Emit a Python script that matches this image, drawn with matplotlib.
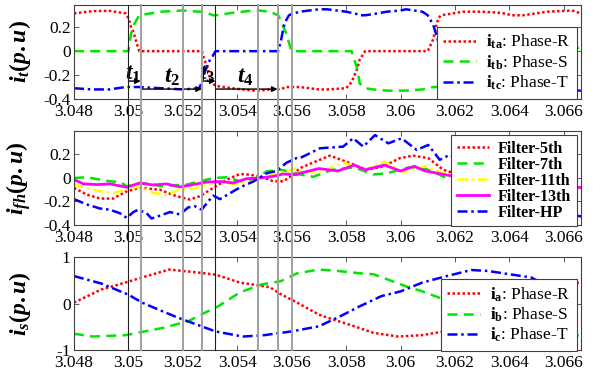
import matplotlib
matplotlib.use('Agg')
import matplotlib.pyplot as plt
import matplotlib.transforms as mtransforms
from matplotlib.lines import Line2D

plt.rcParams['font.family'] = ['Liberation Serif', 'DejaVu Serif']
plt.rcParams['mathtext.fontset'] = 'custom'
plt.rcParams['mathtext.rm'] = 'Liberation Serif:bold'
plt.rcParams['mathtext.bf'] = 'Liberation Serif:bold'
plt.rcParams['mathtext.it'] = 'Liberation Serif:bold:italic'

# --- Compensating currents i_t (p.u) ---
t_top = [3.048, 3.0487, 3.0493, 3.0499, 3.05, 3.0501, 3.0502, 3.0503, 3.0504, 3.0512, 3.052,
         3.0526, 3.0527, 3.0528, 3.0529, 3.053, 3.0531, 3.0532, 3.0538, 3.0546, 3.0548, 3.0552,
         3.0555, 3.0556, 3.0557, 3.0558, 3.0559, 3.056, 3.0563, 3.057, 3.0573, 3.058, 3.0582,
         3.0584, 3.0585, 3.0587, 3.059, 3.0595, 3.06, 3.0602, 3.0608, 3.061, 3.0612, 3.0613,
         3.0614, 3.0615, 3.0623, 3.063, 3.0637, 3.0639, 3.0641, 3.0643, 3.0645, 3.0654, 3.0663,
         3.0667]
i_ta = [0.316, 0.335, 0.337, 0.316, 0.275, 0.2, 0.15, 0.07, 0.0, 0.0, 0.0,
        0.0, 0.0, -0.08, -0.12, -0.23, -0.27, -0.29, -0.31, -0.33, -0.33, -0.32,
        -0.32, -0.31, -0.31, -0.30, -0.30, -0.30, -0.30, -0.32, -0.32, -0.31, -0.26,
        -0.15, -0.07, 0.0, 0.0, 0.0, 0.0, 0.0, 0.0, 0.0, 0.10, 0.20,
        0.28, 0.30, 0.33, 0.33, 0.32, 0.31, 0.30, 0.30, 0.30, 0.33, 0.34,
        0.31]
i_tb = [0.0, 0.0, 0.0, 0.0, 0.0, 0.15, 0.22, 0.26, 0.30, 0.33, 0.34,
        0.33, 0.33, 0.32, 0.32, 0.31, 0.30, 0.30, 0.32, 0.34, 0.34, 0.33,
        0.30, 0.26, 0.20, 0.15, 0.07, 0.0, 0.0, 0.0, 0.0, 0.0, 0.0,
        -0.14, -0.27, -0.31, -0.32, -0.33, -0.33, -0.33, -0.32, -0.31, -0.30, -0.30,
        -0.30, -0.30, -0.31, -0.31, -0.30, -0.20, -0.05, 0.0, 0.0, 0.0, 0.0,
        0.05]
i_tc = [-0.31, -0.32, -0.32, -0.30, -0.30, -0.30, -0.30, -0.30, -0.30, -0.31, -0.32,
        -0.31, -0.26, -0.18, -0.12, -0.07, -0.04, 0.0, 0.0, 0.0, 0.0, 0.0,
        0.0, 0.08, 0.20, 0.26, 0.30, 0.31, 0.33, 0.35, 0.35, 0.33, 0.32,
        0.31, 0.30, 0.30, 0.31, 0.33, 0.34, 0.35, 0.33, 0.30, 0.22, 0.15,
        0.07, 0.0, 0.0, 0.0, 0.0, -0.08, -0.22, -0.30, -0.31, -0.32, -0.33,
        -0.33]

# --- Filter currents i_fh (p.u) ---
t_f5 = [3.048, 3.04847, 3.04896, 3.04944, 3.04994, 3.05042, 3.05116, 3.05177, 3.05226, 3.05263,
        3.05312, 3.05361, 3.0541, 3.05447, 3.05495, 3.05532, 3.05569, 3.05606, 3.0563, 3.0574,
        3.05814, 3.05875, 3.05936, 3.05998, 3.06046, 3.06102, 3.06157, 3.0625, 3.0635, 3.0645,
        3.0655, 3.0667]
i_f5 = [-0.084, -0.141, -0.175, -0.175, -0.113, -0.084, -0.10, -0.155, -0.183, -0.155,
        -0.084, -0.014, 0.034, 0.028, 0.006, -0.028, -0.028, 0.028, 0.084, 0.19,
        0.127, 0.07, 0.099, 0.169, 0.19, 0.169, 0.07, 0.0, -0.08, -0.12,
        -0.10, -0.08]

t_f7 = [3.048, 3.04847, 3.04896, 3.04932, 3.04969, 3.04994, 3.05042, 3.05079, 3.05116, 3.05165,
        3.05214, 3.05263, 3.05312, 3.05361, 3.0541, 3.05459, 3.05508, 3.05557, 3.05606, 3.0563,
        3.05679, 3.0575, 3.0583, 3.059, 3.0595, 3.0603, 3.0609, 3.0616, 3.0625, 3.0635,
        3.0645, 3.0655, 3.0667]
i_f7 = [0.0, 0.006, -0.014, -0.028, -0.034, -0.07, -0.05, -0.045, -0.07, -0.062,
        -0.056, -0.028, 0.0, 0.006, -0.028, -0.014, 0.056, 0.07, 0.05, 0.03,
        0.01, 0.07, 0.09, 0.03, 0.04, 0.09, 0.08, 0.01, -0.02, -0.06,
        -0.08, -0.09, -0.09]

t_f11 = [3.048, 3.04847, 3.04896, 3.04944, 3.04994, 3.05042, 3.05091, 3.0514, 3.05189, 3.05238,
         3.05287, 3.05336, 3.05385, 3.05434, 3.05483, 3.05532, 3.05581, 3.05618, 3.0563, 3.0570,
         3.0579, 3.0587, 3.0594, 3.0601, 3.0609, 3.0616, 3.0625, 3.0635, 3.0645, 3.0655,
         3.0667]
i_f11 = [-0.056, -0.084, -0.113, -0.127, -0.098, -0.07, -0.127, -0.141, -0.098, -0.09,
         -0.056, -0.028, -0.05, -0.042, -0.014, 0.028, 0.056, 0.084, 0.06, 0.05,
         0.13, 0.07, 0.14, 0.05, 0.10, 0.04, 0.0, -0.05, -0.08, -0.09,
         -0.09]

t_f13 = [3.048, 3.04835, 3.04884, 3.04932, 3.04994, 3.05042, 3.05091, 3.0514, 3.05189, 3.05238,
         3.05287, 3.05336, 3.05385, 3.05434, 3.05483, 3.05532, 3.05569, 3.05618, 3.0563, 3.0570,
         3.0577, 3.0583, 3.0587, 3.0594, 3.060, 3.0605, 3.0609, 3.0616, 3.0625, 3.0635,
         3.0645, 3.0655, 3.0667]
i_f13 = [-0.014, -0.05, -0.056, -0.05, -0.079, -0.042, -0.06, -0.05, -0.076, -0.056,
         -0.034, -0.03, -0.042, -0.006, 0.0, 0.014, 0.034, 0.028, 0.04, 0.08,
         0.06, 0.11, 0.07, 0.11, 0.06, 0.10, 0.06, 0.03, -0.01, -0.05,
         -0.07, -0.08, -0.08]

t_hp = [3.048, 3.04847, 3.04896, 3.04932, 3.04969, 3.04994, 3.05018, 3.05036, 3.05067, 3.05085,
        3.05116, 3.05153, 3.05189, 3.0522, 3.05244, 3.05269, 3.05293, 3.05312, 3.05336, 3.05373,
        3.0541, 3.05459, 3.05508, 3.05545, 3.05581, 3.05618, 3.0563, 3.05704, 3.05789, 3.05826,
        3.05863, 3.05906, 3.05955, 3.06004, 3.06059, 3.06102, 3.06144, 3.06181, 3.063, 3.064,
        3.065, 3.066, 3.0667]
i_hp = [-0.18, -0.225, -0.26, -0.27, -0.30, -0.34, -0.29, -0.27, -0.30, -0.345,
        -0.32, -0.29, -0.31, -0.25, -0.24, -0.27, -0.20, -0.15, -0.18, -0.13,
        -0.08, -0.03, 0.04, 0.06, 0.13, 0.17, 0.169, 0.253, 0.267, 0.338,
        0.267, 0.365, 0.295, 0.338, 0.239, 0.281, 0.155, 0.197, 0.05, -0.10,
        -0.20, -0.30, -0.33]

# --- Source currents i_s (p.u) ---
t_sa = [3.048, 3.049, 3.05, 3.0505, 3.0515, 3.0525, 3.0532, 3.0541, 3.0552, 3.0556, 3.0562,
        3.057, 3.0575, 3.0581, 3.059, 3.0599, 3.0608, 3.0616, 3.0628, 3.0642, 3.0655, 3.0666]
i_sa = [0.02, 0.30, 0.47, 0.56, 0.73, 0.67, 0.62, 0.45, 0.35, 0.20, 0.02,
        -0.24, -0.34, -0.45, -0.63, -0.71, -0.68, -0.60, -0.40, 0.0, 0.30, 0.46]
t_sb = [3.048, 3.0487, 3.0499, 3.0506, 3.0513, 3.0522, 3.0528, 3.0533, 3.0541, 3.0549, 3.0556,
        3.0562, 3.057, 3.0577, 3.0585, 3.059, 3.0597, 3.0602, 3.0608, 3.0614, 3.0617, 3.063,
        3.0645, 3.0666]
i_sb = [-0.65, -0.71, -0.68, -0.60, -0.52, -0.38, -0.20, -0.06, 0.24, 0.41, 0.48,
        0.65, 0.73, 0.70, 0.65, 0.63, 0.48, 0.37, 0.26, 0.13, -0.02, -0.35,
        -0.62, -0.69]
t_sc = [3.048, 3.049, 3.05, 3.0505, 3.0511, 3.0518, 3.0525, 3.0532, 3.0542, 3.055, 3.056,
        3.057, 3.0578, 3.0585, 3.0593, 3.06, 3.0608, 3.0617, 3.0626, 3.0632, 3.064, 3.0648,
        3.0655, 3.0666]
i_sc = [0.59, 0.43, 0.19, 0.02, -0.13, -0.30, -0.45, -0.60, -0.71, -0.68, -0.60,
        -0.49, -0.27, -0.06, 0.16, 0.26, 0.45, 0.59, 0.72, 0.70, 0.63, 0.56,
        0.35, 0.24]

# switching instants marked across all panels
marks_black = [3.05, 3.0532]
marks_gray = [3.05045, 3.052, 3.0527, 3.05475, 3.05548, 3.056]

# interval arrows: (start, end, level)
arrows = [(3.05, 3.05045, -0.25), (3.05045, 3.0527, -0.317),
          (3.0527, 3.0532, -0.25), (3.0532, 3.05548, -0.317)]
arrow_labels = [(3.05016, -0.19, r'$t_1$'), (3.05159, -0.215, r'$t_2$'),
                (3.05288, -0.19, r'$t_3$'), (3.05428, -0.215, r'$t_4$')]

fig = plt.figure(figsize=(6.0, 3.76), dpi=100)
ax1 = fig.add_axes([0.1233, 0.7367, 0.845, 0.2513])
ax2 = fig.add_axes([0.1233, 0.4016, 0.845, 0.25])
ax3 = fig.add_axes([0.1233, 0.0691, 0.845, 0.2474])

red, green, blue = '#ff0000', '#00e600', '#0000ff'
lw = 1.8

ax1.plot(t_top, i_ta, color=red, ls=(0, (1, 1)), lw=lw, label=r'$\mathbf{i_{ta}}$: Phase-R')
ax1.plot(t_top, i_tb, color=green, ls=(0, (4, 2.5)), lw=lw, label=r'$\mathbf{i_{tb}}$: Phase-S')
ax1.plot(t_top, i_tc, color=blue, ls=(0, (4, 1.5, 1, 1.5)), lw=lw, label=r'$\mathbf{i_{tc}}$: Phase-T')

ax2.plot(t_f5, i_f5, color=red, ls=(0, (1, 1)), lw=lw, label='Filter-5th')
ax2.plot(t_f7, i_f7, color=green, ls=(0, (4, 2.5)), lw=lw, label='Filter-7th')
ax2.plot(t_f11, i_f11, color='#ffff00', ls=(0, (4, 1.5, 1, 1.5)), lw=lw, label='Filter-11th')
ax2.plot(t_f13, i_f13, color='#ff00ff', ls='-', lw=2.0, label='Filter-13th')
ax2.plot(t_hp, i_hp, color=blue, ls=(0, (4, 1.5, 1, 1.5)), lw=lw, label='Filter-HP')

ax3.plot(t_sa, i_sa, color=red, ls=(0, (1, 1)), lw=lw, label=r'$\mathbf{i_{a}}$: Phase-R')
ax3.plot(t_sb, i_sb, color=green, ls=(0, (4, 2.5)), lw=lw, label=r'$\mathbf{i_{b}}$: Phase-S')
ax3.plot(t_sc, i_sc, color=blue, ls=(0, (4, 1.5, 1, 1.5)), lw=lw, label=r'$\mathbf{i_{c}}$: Phase-T')

xticks = [3.048, 3.05, 3.052, 3.054, 3.056, 3.058, 3.06, 3.062, 3.064, 3.066]
xlabels = ['3.048', '3.05', '3.052', '3.054', '3.056', '3.058', '3.06', '3.062', '3.064', '3.066']

for ax in (ax1, ax2, ax3):
    ax.set_xlim(3.048, 3.06663)
    ax.set_xticks(xticks)
    ax.set_xticklabels(xlabels)
    ax.tick_params(direction='in', top=True, right=True, length=3.5, width=0.6,
                   labelsize=12.5, color='#404040', pad=2.5)
    ax.tick_params(axis='x', pad=3.5)
    for s in ax.spines.values():
        s.set_color('#404040')
        s.set_linewidth(0.8)

ax1.set_ylim(-0.4, 0.39)
ax1.set_yticks([-0.4, -0.2, 0, 0.2])
ax1.set_yticklabels(['-0.4', '-0.2', '0', '0.2'])
ax2.set_ylim(-0.4, 0.4)
ax2.set_yticks([-0.4, -0.2, 0, 0.2])
ax2.set_yticklabels(['-0.4', '-0.2', '0', '0.2'])
ax3.set_ylim(-1, 1)
ax3.set_yticks([-1, 0, 1])
ax3.set_yticklabels(['-1', '0', '1'])

ax1.set_ylabel(r'$i_t(p.u)$', fontsize=17)
ax2.set_ylabel(r'$i_{fh}(p.u)$', fontsize=17)
ax3.set_ylabel(r'$i_s(p.u)$', fontsize=17)
for ax in (ax1, ax2, ax3):
    ax.yaxis.set_label_coords(-0.08, 0.5)

# interval arrows and labels
for x0, x1, y in arrows:
    ax1.annotate('', xy=(x1, y), xytext=(x0, y),
                 arrowprops=dict(arrowstyle='-|>', color='black', lw=1.0,
                                 mutation_scale=8, shrinkA=0, shrinkB=0))
for x, y, s in arrow_labels:
    ax1.text(x, y, s, fontsize=17, ha='center', va='center')

# vertical markers spanning all three panels
trans = mtransforms.blended_transform_factory(ax1.transData, fig.transFigure)
y_top = 0.7367 + 0.2513
y_bot = 0.0691
for x in marks_gray:
    fig.add_artist(Line2D([x, x], [y_bot, y_top], transform=trans, color='#a0a0a0',
                          lw=1.4, zorder=10))
for x in marks_black:
    fig.add_artist(Line2D([x, x], [y_bot, y_top], transform=trans, color='#202020',
                          lw=0.8, zorder=10))

leg_kw = dict(loc='upper right', fancybox=False, framealpha=1, edgecolor='#404040',
              borderaxespad=0, handletextpad=0.6, borderpad=0.35)
l1 = ax1.legend(bbox_to_anchor=(0.992, 0.762), fontsize=12.5, labelspacing=0.12,
                handlelength=1.9, **leg_kw)
l2 = ax2.legend(bbox_to_anchor=(0.992, 0.957), prop={'size': 11.5, 'weight': 'bold'},
                labelspacing=0.0, handlelength=2.0, **leg_kw)
l3 = ax3.legend(bbox_to_anchor=(0.992, 0.763), fontsize=12.5, labelspacing=0.12,
                handlelength=1.9, **leg_kw)
for lg in (l1, l2, l3):
    lg.get_frame().set_linewidth(0.8)
    lg.set_zorder(20)

fig.savefig('out.png', dpi=100)
